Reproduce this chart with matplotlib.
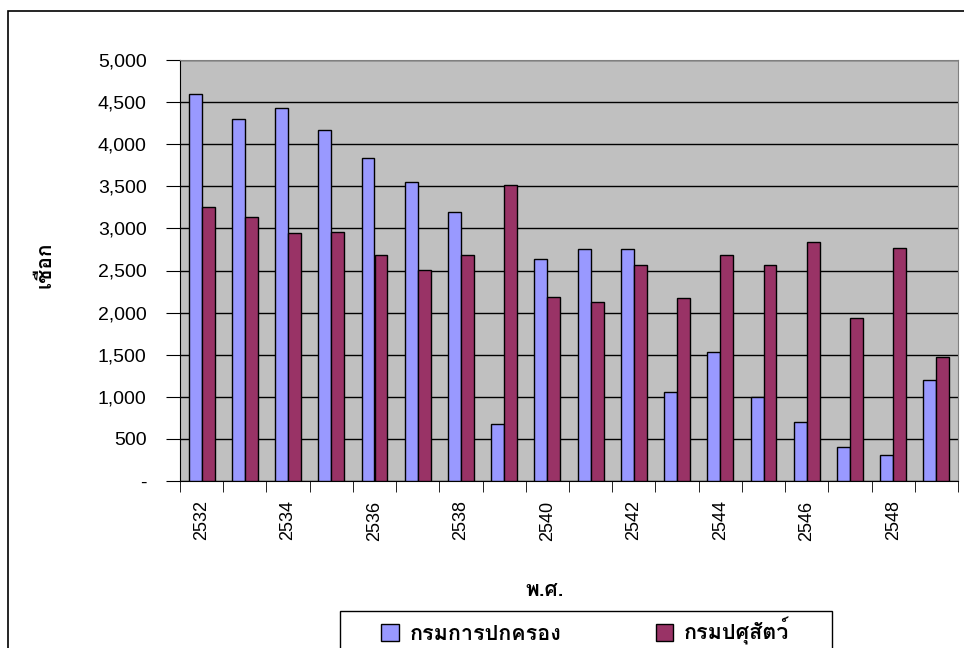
import numpy as np
import matplotlib
matplotlib.use("Agg")
import matplotlib.pyplot as plt
from matplotlib import font_manager
from matplotlib.ft2font import FT2Font
from matplotlib.patches import Rectangle

years = list(range(2532, 2550))
interior = [4600, 4300, 4430, 4170, 3840, 3550, 3200, 680, 2640,
            2750, 2750, 1060, 1530, 1000, 700, 400, 310, 1200]
livestock = [3250, 3140, 2950, 2960, 2680, 2510, 2690, 3520, 2190,
             2120, 2570, 2170, 2690, 2570, 2840, 1940, 2770, 1470]
series_names = ["กรมการปกครอง", "กรมปศุสัตว์"]
x_title = "พ.ศ."
y_title = "เชือก"


# find an installed font with Thai glyphs, if there is one
def thai_font():
    for f in font_manager.fontManager.ttflist:
        try:
            if ord("ก") in FT2Font(f.fname).get_charmap():
                return f.name
        except Exception:
            pass
    return None


tf = thai_font()
fams = ([tf] if tf else []) + ["Liberation Sans", "DejaVu Sans"]
plt.rcParams["font.family"] = ["Liberation Sans", "DejaVu Sans"]

fig = plt.figure(figsize=(9.64, 6.48), dpi=100)
ax = fig.add_axes([180 / 964, 1 - 481 / 648, 778 / 964, 421 / 648])

# outer chart frame (cut off at right and bottom like the original)
fig.patches.append(Rectangle((8 / 964, -0.1), 1.2, 1 - 11 / 648 + 0.1,
                             transform=fig.transFigure, fill=False,
                             edgecolor="black", linewidth=1.2))
# legend frame, also running off the bottom
fig.patches.append(Rectangle((340 / 964, -0.1), 492 / 964, 1 - 611 / 648 + 0.1,
                             transform=fig.transFigure, fill=False,
                             edgecolor="black", linewidth=1))

x = np.arange(len(years))
w = 0.3
ax.bar(x - w / 2, interior, w, color="#9999FF", edgecolor="black",
       linewidth=1, label=series_names[0], zorder=3)
ax.bar(x + w / 2, livestock, w, color="#993366", edgecolor="black",
       linewidth=1, label=series_names[1], zorder=3)

ax.set_facecolor("#C0C0C0")
ax.set_xlim(-0.5, len(years) - 0.5)
ax.set_ylim(0, 5000)

yt = np.arange(0, 5001, 500)
ax.set_yticks(yt)
ax.set_yticklabels(["-" if v == 0 else f"{v:,}" for v in yt], fontsize=14)
ax.yaxis.grid(True, color="black", linewidth=1)
ax.set_axisbelow(True)
ax.tick_params(axis="y", direction="out", length=10, pad=14)

ax.set_xticks(x[::2])
ax.set_xticklabels([str(y) for y in years[::2]], rotation=90, fontsize=13)
ax.set_xticks(np.arange(-0.5, len(years)), minor=True)
ax.tick_params(axis="x", which="major", length=0, pad=14)
ax.tick_params(axis="x", which="minor", length=8)

for s in ["top", "right"]:
    ax.spines[s].set_color("#808080")
ax.spines["left"].set_color("black")
ax.spines["bottom"].set_color("black")

fig.text(45 / 964, 1 - 265 / 648, y_title, rotation=90, ha="center",
         va="center", fontsize=15, fontweight="bold", family=fams)
fig.text(545 / 964, 1 - 590 / 648, x_title, ha="center", va="center",
         fontsize=15, fontweight="bold", family=fams)

leg = fig.legend(loc="upper left", bbox_to_anchor=(376 / 964, 1 - 612 / 648),
                 borderaxespad=0, ncol=2, frameon=False,
                 prop={"family": fams, "size": 15.5, "weight": "bold"},
                 handlelength=0.8, handleheight=0.8, handletextpad=0.5,
                 columnspacing=4.4, borderpad=0.25)

plt.savefig("out.png", dpi=100)
